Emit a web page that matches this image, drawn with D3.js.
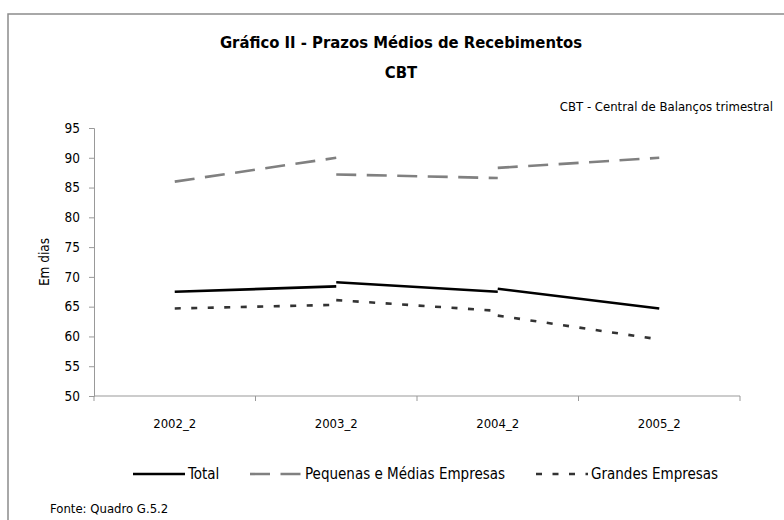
<!DOCTYPE html>
<html>
<head>
<meta charset="utf-8">
<script src="https://cdn.jsdelivr.net/npm/d3@7"></script>
<style>
    body { margin: 0; background: #fff; }
    svg text { font-family: "Liberation Sans Narrow", "Arial Narrow", "DejaVu Sans Condensed", sans-serif; fill: #000; }
</style>
</head>
<body>
<svg id="chart"></svg>
<script>
const width = 784;
const height = 520;

// categories on the x axis
const categories = ["2002_2", "2003_2", "2004_2", "2005_2"];
const yTicks = [50, 55, 60, 65, 70, 75, 80, 85, 90, 95];

// each series is drawn as separate segments [start, end] between two consecutive years
const totalPairs = [[67.5, 68.4], [69.1, 67.5], [68.0, 64.7]];
const pmePairs = [[86.0, 90.0], [87.2, 86.6], [88.3, 90.0]];
const grandesPairs = [[64.7, 65.3], [66.1, 64.3], [63.5, 59.5]];

const seriesNames = ["Total", "Pequenas e Médias Empresas", "Grandes Empresas"];

const styles = [
    { color: "#000", dash: null, w: 2.6 },
    { color: "#808080", dash: "20,10.5", w: 2.6 },
    { color: "#333", dash: "6,10.5", w: 2.6 }
];

const svg = d3.select("#chart").attr("width", width).attr("height", height);

// outer frame
svg.append("rect").attr("x", 8).attr("y", 14).attr("width", 800).attr("height", 540)
    .attr("fill", "none").attr("stroke", "#8c8c8c").attr("stroke-width", 1.5);

svg.append("text").attr("x", 401).attr("y", 48).attr("text-anchor", "middle")
    .style("font-size", "16.5px").style("font-weight", "bold")
    .text("Gráfico II - Prazos Médios de Recebimentos");
svg.append("text").attr("x", 401).attr("y", 78).attr("text-anchor", "middle")
    .style("font-size", "16.5px").style("font-weight", "bold").text("CBT");
svg.append("text").attr("x", 773).attr("y", 111).attr("text-anchor", "end")
    .style("font-size", "13px").text("CBT - Central de Balanços trimestral");

const x = d3.scaleBand().domain(categories).range([94, 740]).padding(0);
const y = d3.scaleLinear().domain([50, 95]).range([396, 128]);
const cx = c => x(c) + x.bandwidth() / 2;

// y axis
const yAxis = svg.append("g").attr("transform", "translate(94,0)")
    .call(d3.axisLeft(y).tickValues(yTicks).tickSize(5).tickPadding(9));
yAxis.select(".domain").attr("stroke", "#999");
yAxis.selectAll(".tick line").attr("stroke", "#999");
yAxis.selectAll("text").style("font-size", "13.5px").attr("fill", "#000");

// x axis, ticks on band edges
const xAxis = svg.append("g").attr("transform", "translate(0,396)");
xAxis.append("line").attr("x1", 94).attr("x2", 740).attr("stroke", "#999");
const edges = categories.map(c => x(c)).concat([x.range()[1]]);
xAxis.selectAll(".edge").data(edges).enter().append("line").attr("class", "edge")
    .attr("x1", d => d).attr("x2", d => d).attr("y1", 0).attr("y2", 5).attr("stroke", "#999");
xAxis.selectAll(".lab").data(categories).enter().append("text").attr("class", "lab")
    .attr("x", d => cx(d)).attr("y", 32).attr("text-anchor", "middle")
    .style("font-size", "13px").text(d => d);

svg.append("text").attr("transform", "translate(49,262) rotate(-90)").attr("text-anchor", "middle")
    .style("font-size", "13.5px").text("Em dias");

// series segments
const allPairs = [totalPairs, pmePairs, grandesPairs];
const line = d3.line().x(d => d[0]).y(d => y(d[1]));
[2, 1, 0].forEach(i => {
    const segs = allPairs[i].map((p, j) => [[cx(categories[j]), p[0]], [cx(categories[j + 1]), p[1]]]);
    svg.selectAll(".s" + i).data(segs).enter().append("path").attr("class", "s" + i)
        .attr("d", line).attr("fill", "none")
        .attr("stroke", styles[i].color).attr("stroke-width", styles[i].w)
        .attr("stroke-dasharray", styles[i].dash);
});

// legend
const legendX = [133, 250, 536];
const legend = svg.append("g").attr("transform", "translate(0,474)");
seriesNames.forEach((name, i) => {
    legend.append("line").attr("x1", legendX[i]).attr("x2", legendX[i] + 52)
        .attr("stroke", styles[i].color).attr("stroke-width", styles[i].w)
        .attr("stroke-dasharray", styles[i].dash);
    legend.append("text").attr("x", legendX[i] + 55).attr("y", 5)
        .style("font-size", "15px").text(name);
});

svg.append("text").attr("x", 50).attr("y", 513).style("font-size", "13px").text("Fonte: Quadro G.5.2");
</script>
</body>
</html>
